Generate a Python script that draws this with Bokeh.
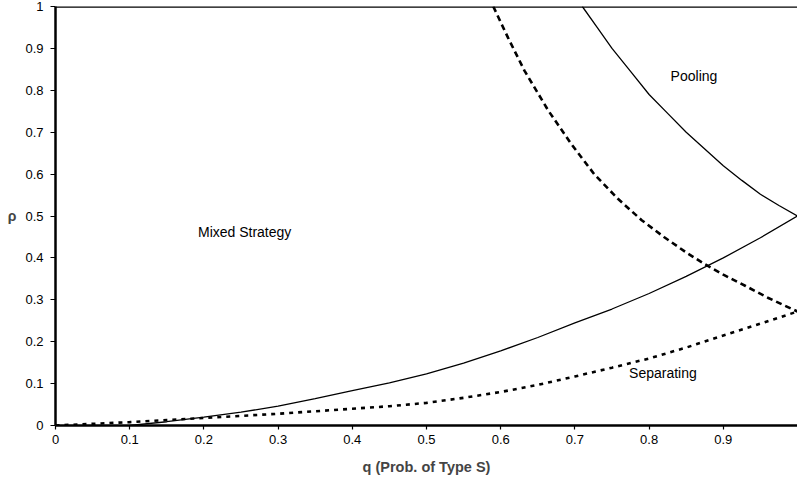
from bokeh.plotting import figure
from bokeh.models import Range1d, FixedTicker, Label, Span
from bokeh.embed import file_html
from bokeh.resources import INLINE

# Pooling boundary (solid, upper)
q_pool = [0.71, 0.73, 0.75, 0.775, 0.80, 0.825, 0.85, 0.875, 0.90, 0.925, 0.95, 0.975, 1.0]
rho_pool = [1.0, 0.95, 0.90, 0.845, 0.79, 0.745, 0.70, 0.66, 0.62, 0.585, 0.552, 0.525, 0.50]

# Mixed strategy lower boundary (solid, lower)
q_mix = [0.10, 0.15, 0.2, 0.25, 0.3, 0.35, 0.4, 0.45, 0.5, 0.55, 0.6, 0.65, 0.7, 0.75,
         0.8, 0.85, 0.9, 0.95, 1.0]
rho_mix = [0.0, 0.009, 0.02, 0.032, 0.046, 0.064, 0.083, 0.102, 0.123, 0.149, 0.178, 0.21,
           0.245, 0.278, 0.315, 0.356, 0.40, 0.448, 0.50]

# Dashed decreasing curve
q_dash = [0.59, 0.61, 0.632, 0.664, 0.695, 0.726, 0.758, 0.79, 0.82, 0.85, 0.875, 0.90,
          0.93, 0.96, 1.0]
rho_dash = [1.0, 0.925, 0.847, 0.752, 0.672, 0.60, 0.541, 0.49, 0.45, 0.413, 0.385, 0.36,
            0.333, 0.305, 0.272]

# Dotted increasing curve (separating boundary)
q_dot = [0.0, 0.05, 0.1, 0.15, 0.2, 0.25, 0.3, 0.35, 0.4, 0.45, 0.5, 0.55, 0.6, 0.65, 0.7,
         0.75, 0.8, 0.85, 0.9, 0.95, 1.0]
rho_dot = [0.0, 0.004, 0.008, 0.013, 0.018, 0.023, 0.028, 0.034, 0.04, 0.046, 0.054, 0.066,
           0.08, 0.097, 0.117, 0.138, 0.16, 0.186, 0.215, 0.243, 0.272]

x_ticks = [0.0, 0.1, 0.2, 0.3, 0.4, 0.5, 0.6, 0.7, 0.8, 0.9]
x_tick_labels = ["0", "0.1", "0.2", "0.3", "0.4", "0.5", "0.6", "0.7", "0.8", "0.9"]
y_ticks = [0.0, 0.1, 0.2, 0.3, 0.4, 0.5, 0.6, 0.7, 0.8, 0.9, 1.0]
y_tick_labels = ["0", "0.1", "0.2", "0.3", "0.4", "0.5", "0.6", "0.7", "0.8", "0.9", "1"]

FONT = "Liberation Sans"

p = figure(width=797, height=480, output_backend="svg", toolbar_location=None,
           x_range=Range1d(0, 1), y_range=Range1d(0, 1),
           min_border_left=55, min_border_right=0, min_border_top=6, min_border_bottom=55)
p.outline_line_color = None
p.grid.visible = False
p.background_fill_color = "white"
p.border_fill_color = "white"

for ax in (p.xaxis[0], p.yaxis[0]):
    ax.axis_line_width = 2.5
    ax.axis_line_color = "black"
    ax.major_tick_line_color = "black"
    ax.major_tick_line_width = 1.2
    ax.major_tick_in = 0
    ax.minor_tick_line_color = None
    ax.major_label_text_font = FONT
    ax.major_label_text_font_size = "13px"
    ax.major_label_text_color = "black"

p.xaxis.ticker = FixedTicker(ticks=x_ticks)
p.xaxis.major_label_overrides = dict(zip(x_ticks, x_tick_labels))
p.xaxis.major_tick_out = 4
p.xaxis.major_label_standoff = 5
p.xaxis.axis_label = "q (Prob. of Type S)"
p.xaxis.axis_label_text_font = FONT
p.xaxis.axis_label_text_font_style = "bold"
p.xaxis.axis_label_text_font_size = "14.5px"
p.xaxis.axis_label_standoff = 12

p.yaxis.ticker = FixedTicker(ticks=y_ticks)
p.yaxis.major_label_overrides = dict(zip(y_ticks, y_tick_labels))
p.yaxis.major_tick_out = 5
p.yaxis.major_label_standoff = 7
p.yaxis.axis_label = "ρ"
p.yaxis.axis_label_orientation = "horizontal"
p.yaxis.axis_label_text_font = FONT
p.yaxis.axis_label_text_font_style = "bold"
p.yaxis.axis_label_text_font_size = "14px"
p.yaxis.axis_label_standoff = 6

p.add_layout(Span(location=1, dimension="width", line_color="black", line_width=2.5))

p.line(q_pool, rho_pool, line_color="black", line_width=1.3)
p.line(q_mix, rho_mix, line_color="black", line_width=1.3)
p.line(q_dash, rho_dash, line_color="black", line_width=2.6, line_dash="6 4")
p.line(q_dot, rho_dot, line_color="black", line_width=2.6, line_dash="4 5")

for txt, x, y in [("Mixed Strategy", 0.192, 0.463), ("Pooling", 0.829, 0.835), ("Separating", 0.773, 0.125)]:
    p.add_layout(Label(x=x, y=y, text=txt, text_font=FONT, text_font_size="14px",
                       text_baseline="middle", text_align="left", text_color="black"))

open("out.html", "w").write(file_html(p, INLINE))
